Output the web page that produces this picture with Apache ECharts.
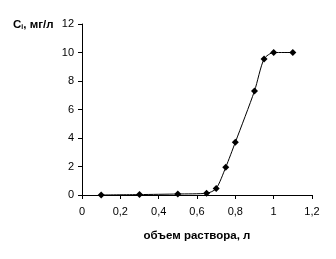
<!DOCTYPE html>
<html><head><meta charset="utf-8">
<script src="https://cdn.jsdelivr.net/npm/echarts@6/dist/echarts.min.js"></script>
<style>html,body{margin:0;padding:0;background:#fff}#c{width:336px;height:259px}</style>
</head><body><div id="c"></div>
<script>
const volumes = [0.1, 0.3, 0.5, 0.65, 0.7, 0.75, 0.8, 0.9, 0.95, 1.0, 1.1];
const concentrations = [0, 0.03, 0.07, 0.12, 0.45, 1.95, 3.7, 7.3, 9.55, 10.0, 10.0];
const xTickLabels = ['0', '0,2', '0,4', '0,6', '0,8', '1', '1,2'];
const yTickLabels = ['0', '2', '4', '6', '8', '10', '12'];

const chart = echarts.init(document.getElementById('c'));
const font = 'Liberation Sans, Arial, sans-serif';
chart.setOption({
  animation: false,
  backgroundColor: '#fff',
  grid: {left: 82, right: 24, top: 24, bottom: 64},
  title: {
    text: '{a|C}{s|i}{a|, мг/л}',
    left: 13, top: 19, padding: 0,
    textStyle: {rich: {
      a: {fontFamily: font, fontSize: 11.5, fontWeight: 'bold', color: '#000'},
      s: {fontFamily: font, fontSize: 7, fontWeight: 'bold', color: '#000', verticalAlign: 'bottom', padding: [5,0,0,0]}
    }}
  },
  xAxis: {
    type: 'value', min: 0, max: 1.2, interval: 0.2,
    name: 'объем раствора, л', nameLocation: 'middle', nameGap: 35,
    nameTextStyle: {fontFamily: font, fontSize: 11.5, fontWeight: 'bold', color: '#000'},
    axisLine: {lineStyle: {color: '#000', width: 1}},
    axisTick: {show: true, length: 4, lineStyle: {color: '#000'}},
    splitLine: {show: false},
    axisLabel: {fontFamily: font, fontSize: 11, color: '#000', margin: 11,
      formatter: v => xTickLabels[Math.round(v / 0.2)]}
  },
  yAxis: {
    type: 'value', min: 0, max: 12, interval: 2,
    axisLine: {show: true, lineStyle: {color: '#000', width: 1}},
    axisTick: {show: true, length: 4, lineStyle: {color: '#000'}},
    splitLine: {show: false},
    axisLabel: {fontFamily: font, fontSize: 11, color: '#000', margin: 8,
      formatter: v => yTickLabels[Math.round(v / 2)]}
  },
  series: [{
    type: 'line', smooth: 0.25,
    data: volumes.map((v, i) => [v, concentrations[i]]),
    symbol: 'diamond', symbolSize: 7,
    lineStyle: {color: '#000', width: 1},
    itemStyle: {color: '#000'}
  }]
});
</script></body></html>
